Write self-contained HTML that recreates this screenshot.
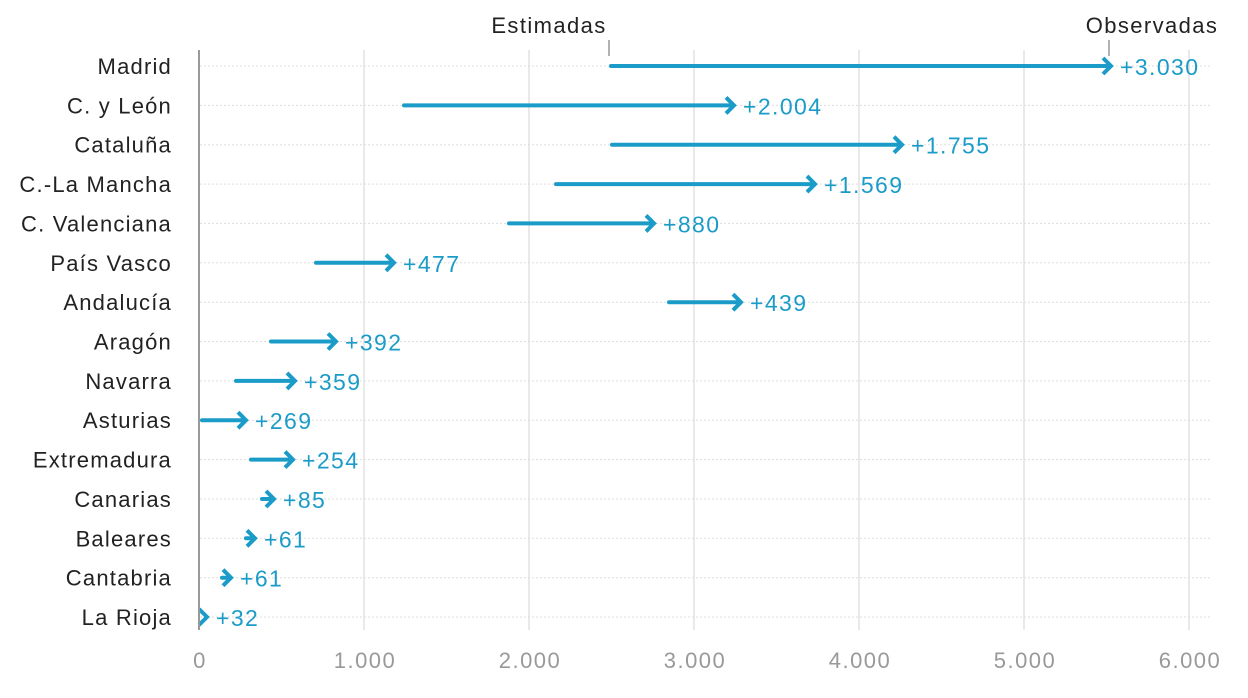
<!DOCTYPE html>
<html><head><meta charset="utf-8"><style>
body{margin:0;background:#fff;}
svg{display:block;font-family:"Liberation Sans",sans-serif;}
</style></head><body>
<svg width="1248" height="698" viewBox="0 0 1248 698">
<g stroke="#e2e2e2" stroke-width="1.5">
<line x1="364" y1="50" x2="364" y2="630"/><line x1="529" y1="50" x2="529" y2="630"/>
<line x1="694" y1="50" x2="694" y2="630"/><line x1="859" y1="50" x2="859" y2="630"/>
<line x1="1024" y1="50" x2="1024" y2="630"/><line x1="1189" y1="50" x2="1189" y2="630"/>
</g>
<g stroke="#ddd" stroke-width="1" stroke-dasharray="2,2">
<line x1="200" y1="66" x2="1210" y2="66"/><line x1="200" y1="105.4" x2="1210" y2="105.4"/>
<line x1="200" y1="144.7" x2="1210" y2="144.7"/><line x1="200" y1="184.1" x2="1210" y2="184.1"/>
<line x1="200" y1="223.4" x2="1210" y2="223.4"/><line x1="200" y1="262.8" x2="1210" y2="262.8"/>
<line x1="200" y1="302.2" x2="1210" y2="302.2"/><line x1="200" y1="341.5" x2="1210" y2="341.5"/>
<line x1="200" y1="380.9" x2="1210" y2="380.9"/><line x1="200" y1="420.2" x2="1210" y2="420.2"/>
<line x1="200" y1="459.6" x2="1210" y2="459.6"/><line x1="200" y1="499" x2="1210" y2="499"/>
<line x1="200" y1="538.3" x2="1210" y2="538.3"/><line x1="200" y1="577.7" x2="1210" y2="577.7"/>
<line x1="200" y1="617" x2="1210" y2="617"/>
</g>
<g font-size="22" fill="#222" text-anchor="end" letter-spacing="1.2">
<text x="172" y="74">Madrid</text><text x="172" y="113.4">C. y León</text>
<text x="172" y="152.7">Cataluña</text><text x="172" y="192.1">C.-La Mancha</text>
<text x="172" y="231.4">C. Valenciana</text><text x="172" y="270.8">País Vasco</text>
<text x="172" y="310.2">Andalucía</text><text x="172" y="349.5">Aragón</text>
<text x="172" y="388.9">Navarra</text><text x="172" y="428.2">Asturias</text>
<text x="172" y="467.6">Extremadura</text><text x="172" y="507">Canarias</text>
<text x="172" y="546.3">Baleares</text><text x="172" y="585.7">Cantabria</text>
<text x="172" y="625">La Rioja</text>
</g>
<g stroke="#1b9cc8" stroke-width="4" fill="none" stroke-linecap="round">
<line x1="611" y1="66" x2="1109" y2="66"/><polyline stroke-linecap="butt" points="1103,58 1111,66 1103,74"/>
<line x1="404" y1="105.4" x2="732" y2="105.4"/><polyline stroke-linecap="butt" points="726,97.4 734,105.4 726,113.4"/>
<line x1="612" y1="144.7" x2="900" y2="144.7"/><polyline stroke-linecap="butt" points="894,136.7 902,144.7 894,152.7"/>
<line x1="556" y1="184.1" x2="813" y2="184.1"/><polyline stroke-linecap="butt" points="807,176.1 815,184.1 807,192.1"/>
<line x1="509" y1="223.4" x2="652" y2="223.4"/><polyline stroke-linecap="butt" points="646,215.4 654,223.4 646,231.4"/>
<line x1="316" y1="262.8" x2="392" y2="262.8"/><polyline stroke-linecap="butt" points="386,254.8 394,262.8 386,270.8"/>
<line x1="669" y1="302.2" x2="739" y2="302.2"/><polyline stroke-linecap="butt" points="733,294.2 741,302.2 733,310.2"/>
<line x1="271" y1="341.5" x2="334" y2="341.5"/><polyline stroke-linecap="butt" points="328,333.5 336,341.5 328,349.5"/>
<line x1="236" y1="380.9" x2="293" y2="380.9"/><polyline stroke-linecap="butt" points="287,372.9 295,380.9 287,388.9"/>
<line x1="202" y1="420.2" x2="244" y2="420.2"/><polyline stroke-linecap="butt" points="238,412.2 246,420.2 238,428.2"/>
<line x1="251" y1="459.6" x2="291" y2="459.6"/><polyline stroke-linecap="butt" points="285,451.6 293,459.6 285,467.6"/>
<line x1="262" y1="499" x2="272" y2="499"/><polyline stroke-linecap="butt" points="266,491 274,499 266,507"/>
<line x1="246" y1="538.3" x2="253" y2="538.3"/><polyline stroke-linecap="butt" points="247,530.3 255,538.3 247,546.3"/>
<line x1="222" y1="577.7" x2="229" y2="577.7"/><polyline stroke-linecap="butt" points="223,569.7 231,577.7 223,585.7"/>
<polyline stroke-linecap="butt" points="199,609 207,617 199,625"/>
</g>
<g font-size="23" fill="#1b9cc8" letter-spacing="1.4">
<text x="1120" y="75">+3.030</text><text x="743" y="114.4">+2.004</text>
<text x="911" y="153.7">+1.755</text><text x="824" y="193.1">+1.569</text>
<text x="663" y="232.4">+880</text><text x="403" y="271.8">+477</text>
<text x="750" y="311.2">+439</text><text x="345" y="350.5">+392</text>
<text x="304" y="389.9">+359</text><text x="255" y="429.2">+269</text>
<text x="302" y="468.6">+254</text><text x="283" y="508">+85</text>
<text x="264" y="547.3">+61</text><text x="240" y="586.7">+61</text>
<text x="216" y="626">+32</text>
</g>
<line x1="199" y1="50" x2="199" y2="630" stroke="#999" stroke-width="2"/>
<g fill="#999" font-size="22" text-anchor="middle" letter-spacing="1.5">
<text x="200" y="668">0</text><text x="365" y="668">1.000</text><text x="530" y="668">2.000</text>
<text x="695" y="668">3.000</text><text x="860" y="668">4.000</text><text x="1025" y="668">5.000</text><text x="1190" y="668">6.000</text>
</g>
<g fill="#222" font-size="22" text-anchor="middle" letter-spacing="1.4">
<text x="549" y="33">Estimadas</text><text x="1152" y="33">Observadas</text>
</g>
<g stroke="#999" stroke-width="1.5"><line x1="609" y1="40" x2="609" y2="56"/><line x1="1109" y1="40" x2="1109" y2="56"/></g>
</svg>
</body></html>
